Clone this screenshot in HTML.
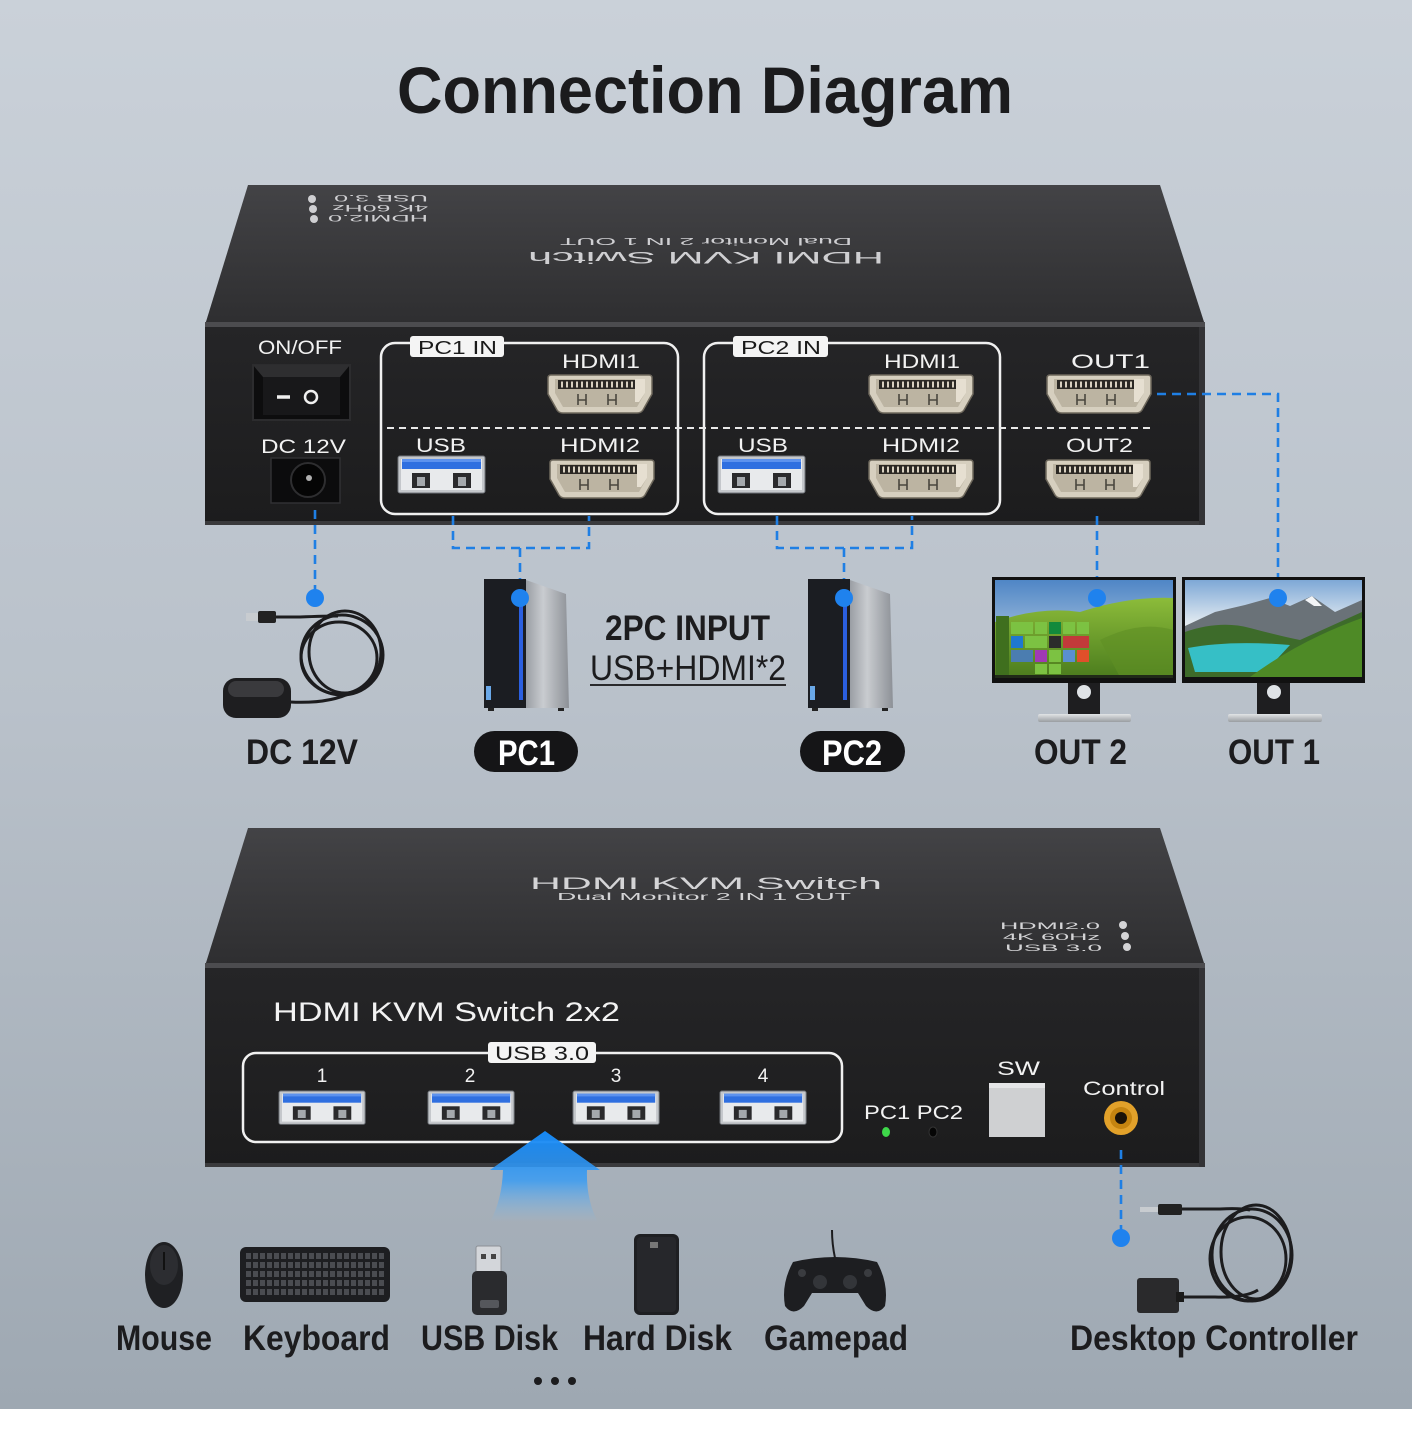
<!DOCTYPE html>
<html><head><meta charset="utf-8"><style>
html,body{margin:0;padding:0;background:#fff;}
svg{display:block;}
text{font-family:"Liberation Sans",sans-serif;}
</style></head><body>
<svg width="1412" height="1440" viewBox="0 0 1412 1440" xmlns="http://www.w3.org/2000/svg">
<defs>
 <linearGradient id="bg" x1="0" y1="0" x2="0" y2="1">
  <stop offset="0" stop-color="#cad1d9"/><stop offset="0.5" stop-color="#b9c1ca"/><stop offset="1" stop-color="#9ea8b2"/>
 </linearGradient>
 <linearGradient id="topface" x1="0" y1="0" x2="0" y2="1">
  <stop offset="0" stop-color="#434346"/><stop offset="1" stop-color="#2e2e30"/>
 </linearGradient>
 <linearGradient id="front" x1="0" y1="0" x2="0" y2="1">
  <stop offset="0" stop-color="#252527"/><stop offset="1" stop-color="#1c1c1d"/>
 </linearGradient>
 <linearGradient id="arrow" x1="0" y1="0" x2="0" y2="1">
  <stop offset="0" stop-color="#1588f5"/><stop offset="0.55" stop-color="#3a9cf3" stop-opacity="0.85"/><stop offset="1" stop-color="#7cbcf0" stop-opacity="0"/>
 </linearGradient>
 <linearGradient id="side" x1="0" y1="0" x2="1" y2="0">
  <stop offset="0" stop-color="#9a9ea4"/><stop offset="0.4" stop-color="#c9ccd0"/><stop offset="1" stop-color="#8d9197"/>
 </linearGradient>
 <linearGradient id="sky2" x1="0" y1="0" x2="0" y2="1">
  <stop offset="0" stop-color="#4f86c6"/><stop offset="1" stop-color="#d6e2ea"/>
 </linearGradient>
 <linearGradient id="hill2" x1="0" y1="0" x2="0" y2="1">
  <stop offset="0" stop-color="#8cbc3a"/><stop offset="1" stop-color="#4c7d1e"/>
 </linearGradient>
 <linearGradient id="sky1" x1="0" y1="0" x2="0" y2="1">
  <stop offset="0" stop-color="#7ea8d6"/><stop offset="0.5" stop-color="#eef2f4"/><stop offset="1" stop-color="#c7d3dc"/>
 </linearGradient>
 <linearGradient id="base" x1="0" y1="0" x2="0" y2="1">
  <stop offset="0" stop-color="#e2e4e6"/><stop offset="1" stop-color="#9a9ea2"/>
 </linearGradient>
 <g id="hdmi">
  <path d="M3,0 H101 Q104,0 104,3 V19 L95,35 Q93,38 89,38 H15 Q11,38 9,35 L0,19 V3 Q0,0 3,0Z" fill="#d6cfbf" stroke="#6e685c" stroke-width="1.5"/>
  <path d="M7,4 H97 V18 L89,32 H15 L7,18Z" fill="#bcb4a2"/>
  <rect x="10" y="5" width="78" height="9" fill="#2b2824"/>
  <line x1="13" y1="9.5" x2="86" y2="9.5" stroke="#d8d0c0" stroke-width="6" stroke-dasharray="2 3"/>
  <path d="M87,4 H97 V18 L91,27 H87Z" fill="#e6dfd1"/>
  <path d="M30,19 V30 M38,19 V30 M30,25 H38 M60,19 V30 M68,19 V30 M60,25 H68" stroke="#4a463e" stroke-width="1.6" fill="none"/>
 </g>
 <g id="usb">
  <rect x="0" y="0" width="87" height="37" rx="2" fill="#c4c7cb" stroke="#6f7379"/>
  <rect x="3" y="3" width="81" height="31" fill="#e8eaec"/>
  <rect x="4" y="3" width="79" height="10" fill="#2f6fe0"/>
  <rect x="4" y="3" width="79" height="3" fill="#5d92ee"/>
  <rect x="14" y="17" width="18" height="15" fill="#2a2a2c"/>
  <rect x="19" y="21" width="8" height="9" fill="#a4a8ac"/>
  <rect x="55" y="17" width="18" height="15" fill="#2a2a2c"/>
  <rect x="60" y="21" width="8" height="9" fill="#a4a8ac"/>
 </g>
</defs>

<!-- background -->
<rect x="0" y="0" width="1412" height="1409" fill="url(#bg)"/>
<rect x="0" y="1409" width="1412" height="31" fill="#ffffff"/>

<!-- title -->
<text x="397" y="113" font-size="66" font-weight="700" fill="#1b1b1d" textLength="616" lengthAdjust="spacingAndGlyphs">Connection Diagram</text>

<!-- ================= TOP DEVICE ================= -->
<polygon points="248,185 1160,185 1205,325 205,325" fill="url(#topface)"/>
<rect x="205" y="322" width="1000" height="6" fill="#4c4c4f"/>
<rect x="205" y="327" width="1000" height="198" fill="url(#front)"/>
<rect x="205" y="521" width="1000" height="4" fill="#3a3a3c"/>
<rect x="1199" y="327" width="6" height="198" fill="#333336"/>

<!-- upside-down top text -->
<g transform="rotate(180 706 253)" fill="#cfcfd2">
 <text x="706" y="254" font-size="17" text-anchor="middle" textLength="356" lengthAdjust="spacingAndGlyphs">HDMI KVM Switch</text>
 <text x="706" y="268" font-size="10" text-anchor="middle" textLength="292" lengthAdjust="spacingAndGlyphs">Dual  Monitor  2 IN 1 OUT</text>
</g>
<g transform="rotate(180 367 209)" fill="#cfcfd2">
 <text x="306" y="203" font-size="9" textLength="100" lengthAdjust="spacingAndGlyphs">HDMI2.0</text>
 <text x="306" y="213" font-size="9" textLength="96" lengthAdjust="spacingAndGlyphs">4K 60Hz</text>
 <text x="306" y="223" font-size="9" textLength="94" lengthAdjust="spacingAndGlyphs">USB 3.0</text>
 <circle cx="420" cy="199" r="4"/><circle cx="421" cy="209" r="4"/><circle cx="422" cy="219" r="4"/>
</g>

<!-- front labels -->
<g fill="#f2f2f2" font-size="19">
 <text x="258" y="354" textLength="84" lengthAdjust="spacingAndGlyphs">ON/OFF</text>
 <text x="261" y="453" textLength="85" lengthAdjust="spacingAndGlyphs">DC 12V</text>
 <text x="562" y="368" textLength="78" lengthAdjust="spacingAndGlyphs">HDMI1</text>
 <text x="416" y="452" textLength="50" lengthAdjust="spacingAndGlyphs">USB</text>
 <text x="560" y="452" textLength="80" lengthAdjust="spacingAndGlyphs">HDMI2</text>
 <text x="884" y="368" textLength="76" lengthAdjust="spacingAndGlyphs">HDMI1</text>
 <text x="738" y="452" textLength="50" lengthAdjust="spacingAndGlyphs">USB</text>
 <text x="882" y="452" textLength="78" lengthAdjust="spacingAndGlyphs">HDMI2</text>
 <text x="1071" y="368" textLength="79" lengthAdjust="spacingAndGlyphs">OUT1</text>
 <text x="1066" y="452" textLength="67" lengthAdjust="spacingAndGlyphs">OUT2</text>
</g>

<!-- switch -->
<rect x="253" y="365" width="97" height="55" fill="#0d0d0e" stroke="#2c2c2e" stroke-width="2"/>
<polygon points="253,365 350,365 340,377 263,377" fill="#2e2e30"/>
<rect x="263" y="377" width="77" height="38" fill="#18181a"/>
<line x1="277" y1="397" x2="290" y2="397" stroke="#f0f0f0" stroke-width="3.5"/>
<circle cx="311" cy="397" r="6" fill="none" stroke="#f0f0f0" stroke-width="2.5"/>
<!-- DC jack -->
<rect x="271" y="458" width="69" height="45" fill="#0c0c0d" stroke="#303033" stroke-width="1.5"/>
<circle cx="308" cy="480" r="17" fill="#050505" stroke="#2e2e30" stroke-width="2"/>
<circle cx="309" cy="478" r="3" fill="#b0b0b0"/>

<!-- PC boxes -->
<rect x="381" y="343" width="297" height="171" rx="14" fill="none" stroke="#f0f0f0" stroke-width="2.5"/>
<rect x="704" y="343" width="296" height="171" rx="14" fill="none" stroke="#f0f0f0" stroke-width="2.5"/>
<line x1="387" y1="428" x2="1150" y2="428" stroke="#e8e8e8" stroke-width="2" stroke-dasharray="7 5"/>
<rect x="410" y="336" width="94" height="21" rx="3" fill="#f4f4f4"/>
<rect x="733" y="336" width="95" height="21" rx="3" fill="#f4f4f4"/>
<text x="418" y="354" font-size="18" fill="#1a1a1a" textLength="79" lengthAdjust="spacingAndGlyphs">PC1 IN</text>
<text x="741" y="354" font-size="18" fill="#1a1a1a" textLength="80" lengthAdjust="spacingAndGlyphs">PC2 IN</text>

<!-- ports -->
<use href="#hdmi" x="548" y="375"/>
<use href="#hdmi" x="550" y="460"/>
<use href="#hdmi" x="869" y="375"/>
<use href="#hdmi" x="869" y="460"/>
<use href="#hdmi" x="1047" y="375"/>
<use href="#hdmi" x="1046" y="460"/>
<use href="#usb" x="398" y="456"/>
<use href="#usb" x="718" y="456"/>

<!-- blue connectors top -->
<g stroke="#1f7fe4" stroke-width="2.6" fill="none" stroke-dasharray="9 6">
 <path d="M315,510 V596"/>
 <path d="M453,516 V548 H589 V516"/>
 <path d="M520,548 V596"/>
 <path d="M777,516 V548 H912 V516"/>
 <path d="M844,548 V596"/>
 <path d="M1097,516 V596"/>
 <path d="M1157,394 H1278 V596"/>
</g>

<!-- DC adapter -->
<g fill="none" stroke="#1c1c1e" stroke-width="3">
 <ellipse cx="342" cy="655" rx="41" ry="40"/>
 <ellipse cx="345" cy="652" rx="36" ry="41"/>
 <ellipse cx="339" cy="658" rx="38" ry="36"/>
 <path d="M272,617 H300 Q325,616 338,616"/>
 <path d="M290,702 Q330,704 352,692"/>
</g>
<rect x="246" y="613" width="14" height="8" fill="#c8ccd0"/>
<rect x="258" y="611" width="18" height="12" rx="2" fill="#222"/>
<rect x="223" y="678" width="68" height="40" rx="13" fill="#1e1e20"/>
<rect x="228" y="681" width="56" height="16" rx="8" fill="#3a3a3d"/>
<circle cx="315" cy="598" r="9" fill="#1f82ee"/>

<!-- PC towers -->
<g>
 <polygon points="526,580 566,594 569,708 526,708" fill="url(#side)"/>
 <rect x="484" y="579" width="42" height="129" fill="#1b1d22"/>
 <rect x="519" y="590" width="4" height="110" fill="#2b5fe0"/>
 <rect x="486" y="686" width="5" height="14" fill="#6aa8e8"/>
 <rect x="488" y="708" width="6" height="3" fill="#222"/>
 <rect x="558" y="708" width="6" height="3" fill="#222"/>
 <circle cx="520" cy="598" r="9" fill="#1f82ee"/>
</g>
<g>
 <polygon points="850,580 890,594 893,708 850,708" fill="url(#side)"/>
 <rect x="808" y="579" width="42" height="129" fill="#1b1d22"/>
 <rect x="843" y="590" width="4" height="110" fill="#2b5fe0"/>
 <rect x="810" y="686" width="5" height="14" fill="#6aa8e8"/>
 <rect x="812" y="708" width="6" height="3" fill="#222"/>
 <rect x="882" y="708" width="6" height="3" fill="#222"/>
 <circle cx="844" cy="598" r="9" fill="#1f82ee"/>
</g>

<!-- middle labels -->
<text x="246" y="764" font-size="35" font-weight="700" fill="#1c1c1e" textLength="112" lengthAdjust="spacingAndGlyphs">DC 12V</text>
<rect x="474" y="731" width="104" height="41" rx="20.5" fill="#151517"/>
<text x="498" y="765" font-size="35" font-weight="700" fill="#ffffff" textLength="57" lengthAdjust="spacingAndGlyphs">PC1</text>
<rect x="800" y="731" width="105" height="41" rx="20.5" fill="#151517"/>
<text x="822" y="765" font-size="35" font-weight="700" fill="#ffffff" textLength="60" lengthAdjust="spacingAndGlyphs">PC2</text>
<text x="605" y="640" font-size="35" font-weight="700" fill="#1c1c1e" textLength="165" lengthAdjust="spacingAndGlyphs">2PC INPUT</text>
<text x="590" y="680" font-size="35" fill="#1c1c1e" textLength="196" lengthAdjust="spacingAndGlyphs">USB+HDMI*2</text>
<line x1="590" y1="685" x2="786" y2="685" stroke="#2a2a2c" stroke-width="2"/>

<!-- monitor OUT2 -->
<rect x="992" y="577" width="184" height="106" fill="#111"/>
<rect x="995" y="580" width="178" height="97" fill="url(#sky2)"/>
<path d="M995,622 Q1040,606 1080,612 Q1130,596 1173,598 V677 H995Z" fill="url(#hill2)"/>
<path d="M1100,640 Q1140,620 1173,630 V677 H1120Z" fill="#5f8f25" opacity="0.6"/>
<rect x="996" y="616" width="13" height="60" fill="#3f6f1e"/>
<g>
 <rect x="1011" y="622" width="22" height="12" fill="#7cc242"/>
 <rect x="1035" y="622" width="12" height="12" fill="#7cc242"/>
 <rect x="1049" y="622" width="12" height="12" fill="#128a3c"/>
 <rect x="1063" y="622" width="12" height="12" fill="#7cc242"/>
 <rect x="1077" y="622" width="12" height="12" fill="#7cc242"/>
 <rect x="1011" y="636" width="12" height="12" fill="#1f78d1"/>
 <rect x="1025" y="636" width="22" height="12" fill="#7cc242"/>
 <rect x="1049" y="636" width="12" height="12" fill="#2b2b2b"/>
 <rect x="1063" y="636" width="26" height="12" fill="#c23a3a"/>
 <rect x="1011" y="650" width="22" height="12" fill="#4b7db0"/>
 <rect x="1035" y="650" width="12" height="12" fill="#a03ab5"/>
 <rect x="1049" y="650" width="12" height="12" fill="#7cc242"/>
 <rect x="1063" y="650" width="12" height="12" fill="#5a8fd0"/>
 <rect x="1077" y="650" width="12" height="12" fill="#e0502a"/>
 <rect x="1035" y="664" width="12" height="10" fill="#7cc242"/>
 <rect x="1049" y="664" width="12" height="10" fill="#7cc242"/>
</g>
<rect x="995" y="675" width="178" height="3" fill="#202a18"/>
<rect x="1068" y="683" width="32" height="33" fill="#1e1e20"/>
<circle cx="1084" cy="692" r="7" fill="#dfe3e6"/>
<rect x="1038" y="714" width="93" height="8" rx="2" fill="url(#base)"/>
<circle cx="1097" cy="598" r="9" fill="#1f82ee"/>

<!-- monitor OUT1 -->
<rect x="1182" y="577" width="183" height="106" fill="#111"/>
<rect x="1185" y="580" width="177" height="97" fill="url(#sky1)"/>
<path d="M1185,626 L1215,612 L1245,605 L1270,598 L1290,606 L1312,596 L1335,612 L1362,600 V640 H1185Z" fill="#6a7278"/>
<path d="M1305,600 L1312,596 L1322,606 L1314,606Z" fill="#f2f4f6"/>
<path d="M1185,632 Q1220,620 1250,628 Q1280,636 1300,640 L1362,612 V677 H1185Z" fill="#3d6b2a"/>
<path d="M1188,648 Q1230,640 1290,645 L1265,672 H1195Z" fill="#36bfc6"/>
<path d="M1250,677 Q1300,640 1362,618 V677Z" fill="#4e8a26"/>
<rect x="1257" y="683" width="33" height="33" fill="#1e1e20"/>
<circle cx="1274" cy="692" r="7" fill="#dfe3e6"/>
<rect x="1228" y="714" width="94" height="8" rx="2" fill="url(#base)"/>
<circle cx="1278" cy="598" r="9" fill="#1f82ee"/>

<text x="1034" y="764" font-size="35" font-weight="700" fill="#1c1c1e" textLength="93" lengthAdjust="spacingAndGlyphs">OUT 2</text>
<text x="1228" y="764" font-size="35" font-weight="700" fill="#1c1c1e" textLength="92" lengthAdjust="spacingAndGlyphs">OUT 1</text>

<!-- ================= BOTTOM DEVICE ================= -->
<polygon points="248,828 1160,828 1205,966 205,966" fill="url(#topface)"/>
<rect x="205" y="963" width="1000" height="6" fill="#4c4c4f"/>
<rect x="205" y="968" width="1000" height="199" fill="url(#front)"/>
<rect x="205" y="1163" width="1000" height="4" fill="#3a3a3c"/>
<rect x="1199" y="968" width="6" height="199" fill="#333336"/>

<text x="706" y="889" font-size="17" fill="#d4d4d6" text-anchor="middle" textLength="352" lengthAdjust="spacingAndGlyphs">HDMI KVM Switch</text>
<text x="704" y="900" font-size="10" fill="#d4d4d6" text-anchor="middle" textLength="294" lengthAdjust="spacingAndGlyphs">Dual  Monitor  2 IN 1 OUT</text>
<g fill="#d4d4d6" font-size="9">
 <text x="1000" y="929" textLength="100" lengthAdjust="spacingAndGlyphs">HDMI2.0</text>
 <text x="1003" y="940" textLength="97" lengthAdjust="spacingAndGlyphs">4K 60Hz</text>
 <text x="1005" y="951" textLength="97" lengthAdjust="spacingAndGlyphs">USB 3.0</text>
 <circle cx="1123" cy="925" r="4"/><circle cx="1125" cy="936" r="4"/><circle cx="1127" cy="947" r="4"/>
</g>

<text x="273" y="1021" font-size="27" fill="#f2f2f2" textLength="347" lengthAdjust="spacingAndGlyphs">HDMI KVM Switch 2x2</text>
<rect x="243" y="1053" width="599" height="89" rx="13" fill="none" stroke="#f0f0f0" stroke-width="2.5"/>
<rect x="488" y="1042" width="108" height="21" rx="3" fill="#f4f4f4"/>
<text x="495" y="1060" font-size="19" fill="#1a1a1a" textLength="94" lengthAdjust="spacingAndGlyphs">USB 3.0</text>
<g fill="#f2f2f2" font-size="19" text-anchor="middle">
 <text x="322" y="1082">1</text>
 <text x="470" y="1082">2</text>
 <text x="616" y="1082">3</text>
 <text x="763" y="1082">4</text>
</g>
<use href="#usb" transform="translate(279,1091) scale(0.99,0.9)"/>
<use href="#usb" transform="translate(428,1091) scale(0.99,0.9)"/>
<use href="#usb" transform="translate(573,1091) scale(0.99,0.9)"/>
<use href="#usb" transform="translate(720,1091) scale(0.99,0.9)"/>

<text x="864" y="1119" font-size="19" fill="#f2f2f2" textLength="99" lengthAdjust="spacingAndGlyphs">PC1 PC2</text>
<ellipse cx="886" cy="1132" rx="4" ry="5" fill="#3ed84a"/>
<ellipse cx="933" cy="1132" rx="4" ry="5" fill="#050505" stroke="#333"/>
<text x="997" y="1075" font-size="19" fill="#f2f2f2" textLength="43" lengthAdjust="spacingAndGlyphs">SW</text>
<rect x="989" y="1083" width="56" height="54" fill="#cfd0d2"/>
<rect x="989" y="1083" width="56" height="5" fill="#e4e5e7"/>
<text x="1083" y="1095" font-size="19" fill="#f2f2f2" textLength="82" lengthAdjust="spacingAndGlyphs">Control</text>
<circle cx="1121" cy="1118" r="17" fill="#e2a12a"/>
<circle cx="1121" cy="1118" r="11" fill="#c58410"/>
<circle cx="1121" cy="1118" r="6" fill="#1a1208"/>

<!-- blue arrow -->
<path d="M545,1131 L600,1170 L587,1170 Q586,1200 598,1222 H490 Q502,1200 503,1170 L490,1170 Z" fill="url(#arrow)"/>

<!-- control connector -->
<path d="M1121,1150 V1236" stroke="#1f7fe4" stroke-width="2.6" fill="none" stroke-dasharray="9 6"/>
<circle cx="1121" cy="1238" r="9" fill="#1f82ee"/>

<!-- desktop controller -->
<g fill="none" stroke="#1c1c1e" stroke-width="3">
 <ellipse cx="1252" cy="1255" rx="40" ry="46"/>
 <ellipse cx="1256" cy="1252" rx="35" ry="47"/>
 <ellipse cx="1248" cy="1259" rx="38" ry="42"/>
 <path d="M1180,1209 H1220 Q1240,1208 1250,1210"/>
 <path d="M1178,1297 H1215 Q1245,1298 1258,1290"/>
</g>
<rect x="1140" y="1207" width="20" height="5" fill="#c8ccd0"/>
<rect x="1158" y="1204" width="24" height="11" rx="2" fill="#222"/>
<rect x="1137" y="1278" width="42" height="35" rx="3" fill="#2a2a2c"/>
<rect x="1176" y="1292" width="8" height="10" fill="#1a1a1a"/>

<!-- peripherals -->
<ellipse cx="164" cy="1275" rx="19" ry="33" fill="#1f2023"/>
<ellipse cx="164" cy="1265" rx="14" ry="20" fill="#2c2d31"/>
<line x1="164" y1="1252" x2="164" y2="1270" stroke="#111" stroke-width="2"/>

<rect x="240" y="1247" width="150" height="55" rx="6" fill="#1d1e21"/>
<g stroke="#4a4c51" stroke-width="6" stroke-dasharray="5 2">
 <line x1="246" y1="1256" x2="384" y2="1256"/>
 <line x1="246" y1="1265" x2="384" y2="1265"/>
 <line x1="246" y1="1274" x2="384" y2="1274"/>
 <line x1="246" y1="1283" x2="384" y2="1283"/>
 <line x1="246" y1="1292" x2="384" y2="1292"/>
</g>

<rect x="476" y="1246" width="25" height="27" rx="2" fill="#d3d6da" stroke="#8c9096"/>
<rect x="481" y="1254" width="5" height="5" fill="#444"/>
<rect x="491" y="1254" width="5" height="5" fill="#444"/>
<rect x="472" y="1271" width="35" height="44" rx="5" fill="#2a2b2e"/>
<rect x="480" y="1300" width="19" height="8" rx="2" fill="#55575c"/>

<rect x="634" y="1234" width="45" height="81" rx="6" fill="#1e1f22"/>
<rect x="637" y="1237" width="39" height="75" rx="4" fill="#26272b"/>
<rect x="650" y="1242" width="8" height="6" fill="#777"/>

<path d="M835,1258 Q832,1244 832,1230" stroke="#1c1c1e" stroke-width="2" fill="none"/>
<path d="M793,1262 Q835,1252 877,1262 Q889,1284 885,1306 Q877,1317 866,1306 L858,1293 H812 L804,1306 Q793,1317 785,1306 Q781,1284 793,1262 Z" fill="#1d1e21"/>
<circle cx="820" cy="1282" r="7" fill="#333539"/>
<circle cx="850" cy="1282" r="7" fill="#333539"/>
<circle cx="802" cy="1273" r="4" fill="#3a3c40"/>
<circle cx="868" cy="1273" r="4" fill="#3a3c40"/>

<!-- bottom labels -->
<g font-size="35" font-weight="700" fill="#1c1c1e">
 <text x="116" y="1350" textLength="96" lengthAdjust="spacingAndGlyphs">Mouse</text>
 <text x="243" y="1350" textLength="147" lengthAdjust="spacingAndGlyphs">Keyboard</text>
 <text x="421" y="1350" textLength="137" lengthAdjust="spacingAndGlyphs">USB Disk</text>
 <text x="583" y="1350" textLength="149" lengthAdjust="spacingAndGlyphs">Hard Disk</text>
 <text x="764" y="1350" textLength="144" lengthAdjust="spacingAndGlyphs">Gamepad</text>
 <text x="1070" y="1350" textLength="288" lengthAdjust="spacingAndGlyphs">Desktop Controller</text>
</g>
<circle cx="538" cy="1381" r="4" fill="#1c1c1e"/>
<circle cx="555" cy="1381" r="4" fill="#1c1c1e"/>
<circle cx="572" cy="1381" r="4" fill="#1c1c1e"/>
</svg>
</body></html>
